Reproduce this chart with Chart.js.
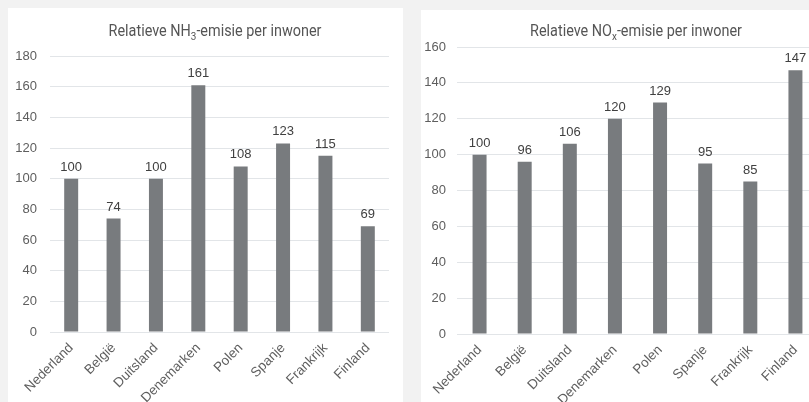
<!DOCTYPE html>
<html lang="nl">
<head>
<meta charset="UTF-8">
<script src="https://cdn.jsdelivr.net/npm/chart.js"></script>
<title>Relatieve emissie per inwoner</title>
<style>
  html, body { margin: 0; padding: 0; background: #f2f2f2; width: 809px; height: 402px; overflow: hidden; }
  .paneel { position: absolute; background: #fff; }
  #p1 { left: 8px; top: 8px; width: 395px; height: 394px; }
  #p2 { left: 421px; top: 10px; width: 400px; height: 392px; }
  canvas { display: block; }
</style>
</head>
<body>
<div class="paneel" id="p1"><canvas id="nh3" width="395" height="394"></canvas></div>
<div class="paneel" id="p2"><canvas id="nox" width="400" height="392"></canvas></div>

<script>
    // gegevens
    const landen = ['Nederland', 'België', 'Duitsland', 'Denemarken', 'Polen', 'Spanje', 'Frankrijk', 'Finland'];
    const nh3Waarden = [100, 74, 100, 161, 108, 123, 115, 69];
    const noxWaarden = [100, 96, 106, 120, 129, 95, 85, 147];
    const nh3As = { max: 180, stap: 20 };
    const noxAs = { max: 160, stap: 20 };

    const tekstKleur = '#5e5e5e';
    const balkKleur = '#787b7e';
    const rasterKleur = '#e2e5e8';

    // titel met subscript (NH3 / NOx)
    const titelPlugin = {
        id: 'titel',
        afterDraw(chart, args, opts) {
            const ctx = chart.ctx;
            const groot = '16px Roboto';
            const klein = '11px Roboto';
            ctx.save();
            ctx.font = groot;
            const w1 = ctx.measureText(opts.voor).width;
            const w3 = ctx.measureText(opts.na).width;
            ctx.font = klein;
            const w2 = ctx.measureText(opts.sub).width;
            const totaal = (w1 + w2 + w3) * opts.smal;
            ctx.translate(opts.x - totaal / 2, opts.y);
            ctx.scale(opts.smal, 1);
            ctx.fillStyle = '#555';
            ctx.textBaseline = 'alphabetic';
            ctx.textAlign = 'left';
            ctx.font = groot;
            ctx.fillText(opts.voor, 0, 0);
            ctx.font = klein;
            ctx.fillText(opts.sub, w1, 4);
            ctx.font = groot;
            ctx.fillText(opts.na, w1 + w2, 0);
            ctx.restore();
        }
    };

    // waarde boven elke balk
    const waardePlugin = {
        id: 'waarden',
        afterDatasetsDraw(chart) {
            const ctx = chart.ctx;
            const meta = chart.getDatasetMeta(0);
            const data = chart.data.datasets[0].data;
            ctx.save();
            ctx.font = '13px "Liberation Sans"';
            ctx.fillStyle = '#404040';
            ctx.textAlign = 'center';
            ctx.textBaseline = 'alphabetic';
            meta.data.forEach((balk, i) => {
                ctx.fillText(data[i], balk.x, balk.y - 8);
            });
            ctx.restore();
        }
    };

    function maakGrafiek(id, waarden, as, maat) {
        return new Chart(document.getElementById(id), {
            type: 'bar',
            data: {
                labels: landen,
                datasets: [{
                    data: waarden,
                    backgroundColor: balkKleur,
                    borderWidth: 0,
                    categoryPercentage: 1,
                    barPercentage: maat.balk
                }]
            },
            options: {
                responsive: false,
                animation: false,
                layout: { padding: { top: maat.boven, right: maat.rechts, left: 0, bottom: 0 } },
                plugins: {
                    legend: { display: false },
                    tooltip: { enabled: false },
                    titel: maat.titel
                },
                scales: {
                    x: {
                        grid: { display: false, drawTicks: false },
                        border: { display: false },
                        ticks: {
                            color: tekstKleur,
                            font: { family: 'Liberation Sans', size: 13.5 },
                            minRotation: 45,
                            maxRotation: 45,
                            padding: 8
                        },
                        afterFit(scale) { scale.height = maat.xHoogte; }
                    },
                    y: {
                        min: 0,
                        max: as.max,
                        grid: { color: rasterKleur, drawTicks: false },
                        border: { display: false },
                        ticks: {
                            stepSize: as.stap,
                            color: tekstKleur,
                            font: { family: 'Liberation Sans', size: 13 },
                            padding: maat.tickAfstand
                        },
                        afterFit(scale) { scale.width = maat.yBreedte; }
                    }
                }
            },
            plugins: [titelPlugin, waardePlugin]
        });
    }

    maakGrafiek('nh3', nh3Waarden, nh3As, {
        balk: 0.33, boven: 48, rechts: 14, xHoogte: 70, yBreedte: 42, tickAfstand: 13,
        titel: { voor: 'Relatieve NH', sub: '3', na: '-emisie per inwoner', x: 207, y: 28, smal: 0.9 }
    });
    maakGrafiek('nox', noxWaarden, noxAs, {
        balk: 0.31, boven: 37, rechts: 3, xHoogte: 68, yBreedte: 36, tickAfstand: 11,
        titel: { voor: 'Relatieve NO', sub: 'x', na: '-emisie per inwoner', x: 215, y: 26, smal: 0.9 }
    });
</script>
</body>
</html>
